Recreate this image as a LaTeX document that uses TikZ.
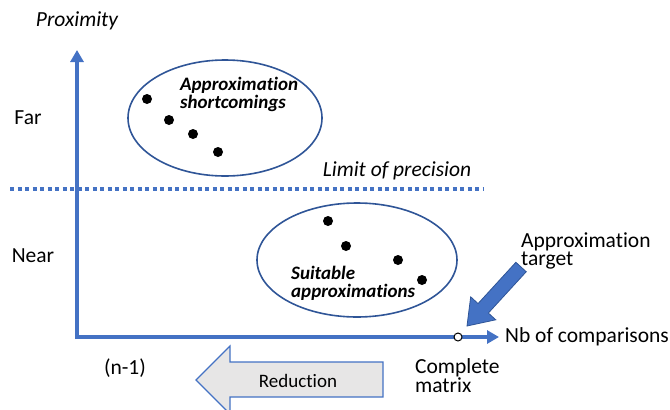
\documentclass[tikz,border=0pt]{standalone}
\usepackage{fontspec}
\setmainfont{Carlito}[Ligatures=NoCommon]
\usetikzlibrary{arrows.meta}
\definecolor{axblue}{HTML}{4472C4}
\definecolor{dkblue}{HTML}{2F5597}
\definecolor{lgray}{HTML}{E7E6E6}
\tikzset{
  lbl/.style={font=\fontsize{21.5}{21.5}\selectfont, inner sep=0pt},
  itl/.style={font=\fontsize{21.5}{21.5}\selectfont\itshape, inner sep=0pt},
  bil/.style={font=\fontsize{19}{17.5}\selectfont\bfseries\itshape, inner sep=0pt, align=left},
  dot/.style={fill=black, circle, inner sep=0pt, minimum size=10pt},
  axis/.style={draw=axblue, line width=4pt, -{Triangle[width=13pt,length=12pt]}}
}
\begin{document}
\begin{tikzpicture}[x=1pt,y=-1pt]
\useasboundingbox (0,0) rectangle (670,410);
% axes
\coordinate (ybot) at (77,339);
\coordinate (ytop) at (77,50);
\coordinate (xbeg) at (75,337);
\coordinate (xend) at (499,337);
\draw[axis] (ybot) -- (ytop);
\draw[axis] (xbeg) -- (xend);
% dotted limit line
\coordinate (l1) at (10,189);
\coordinate (l2) at (483,189);
\draw[axblue, line width=3.5pt, dash pattern=on 4pt off 3.5pt] (l1) -- (l2);
% labels
\node[itl] (prox) at (77,21) {Proximity};
\node[lbl] (far) at (28,118) {Far};
\node[lbl] (near) at (33,256) {Near};
\node[itl] (limit) at (397,171) {Limit of precision};
\node[lbl] (nm1) at (125,368) {(n-1)};
\node[lbl, anchor=west] (nb) at (505,337) {Nb of comparisons};
\node[lbl, anchor=north west, align=left, font=\fontsize{21.5}{17.5}\selectfont] (cm) at (415,358) {Complete\\matrix};
\node[lbl, anchor=north west, align=left, font=\fontsize{21.5}{17.5}\selectfont] (at) at (521,233) {Approximation\\target};
% ellipses
\draw[dkblue, line width=1.6pt] (225,118) ellipse [x radius=97, y radius=58];
\draw[dkblue, line width=1.6pt] (357,260) ellipse [x radius=100, y radius=57];
\node[bil, anchor=north west] (as) at (180,77) {Approximation\\shortcomings};
\node[bil, anchor=north west] (sa) at (291,266) {Suitable\\approximations};
% dots
\foreach \p/\n in {(147,99)/a1,(169,120)/a2,(193,134)/a3,(218,152)/a4,(328,221)/b1,(346,246)/b2,(398,260)/b3,(422,280)/b4}
  \node[dot] (\n) at \p {};
% complete matrix point
\node[circle, draw=black, fill=white, line width=1pt, inner sep=0pt, minimum size=8pt] (cmp) at (458,337) {};
% approximation target arrow (block arrow)
\begin{scope}[shift={(467,326)}, rotate=-132.5]
  \fill[axblue, draw=dkblue, line width=0.8pt]
    (0,0) -- (-24,-17) -- (-24,-7) -- (-80,-7) -- (-80,7) -- (-24,7) -- (-24,17) -- cycle;
\end{scope}
% reduction arrow
\draw[fill=lgray, draw=axblue, line width=1.2pt]
  (196,380) -- (230,346) -- (230,362) -- (383,362) -- (383,397) -- (230,397) -- (230,414) -- cycle;
\node[lbl, font=\fontsize{19}{19}\selectfont] (red) at (298,381) {Reduction};
\end{tikzpicture}
\end{document}
